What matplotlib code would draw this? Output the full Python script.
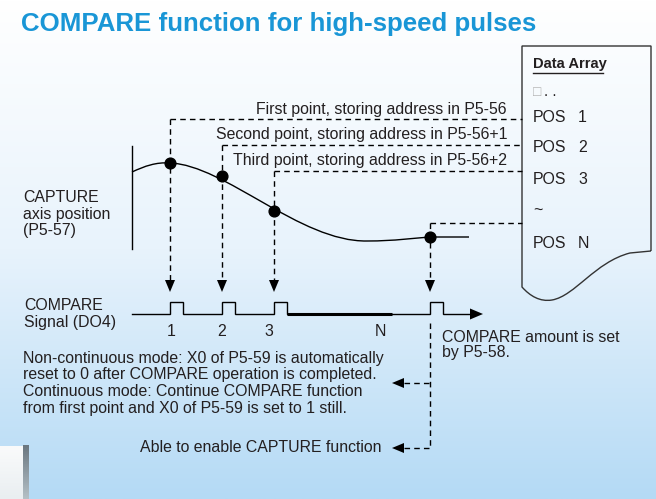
import numpy as np
import matplotlib.pyplot as plt
from matplotlib.path import Path
from matplotlib.patches import PathPatch
from matplotlib.colors import LinearSegmentedColormap

plt.rcParams['font.family'] = ['Liberation Sans', 'DejaVu Sans']

# diagram values (pixel units, y grows downward)
capture_x = [170, 222, 274, 430]
capture_y = [163, 176, 211, 237]
store_y = [119, 145, 171, 223]
store_labels = ["First point, storing address in P5-56",
                "Second point, storing address in P5-56+1",
                "Third point, storing address in P5-56+2"]
store_label_y = [109, 134, 161]

pulse_labels = ["1", "2", "3", "N"]
pulse_label_x = [171, 222, 269, 380]
pulse_width = 13

array_names = ["POS", "POS", "POS", "~", "POS"]
array_index = ["1", "2", "3", "", "N"]
array_row_y = [117, 148, 180, 211, 243]

note_lines = ["Non-continuous mode: X0 of P5-59 is automatically",
              "reset to 0 after COMPARE operation is completed.",
              "Continuous mode: Continue COMPARE function",
              "from first point and X0 of P5-59 is set to 1 still."]
note_y = [359, 375, 392, 408]

TXT = "#231f20"
DASH = (0, (4, 3))
FS = 11.4

fig = plt.figure(figsize=(6.56, 4.99), dpi=100)
ax = fig.add_axes([0, 0, 1, 1])
ax.set_xlim(0, 656)
ax.set_ylim(499, 0)
ax.axis('off')

# background gradient
cmap = LinearSegmentedColormap.from_list("bg", ["#ffffff", "#e8f3fc", "#b4daf5"])
grad = np.linspace(0, 1, 256).reshape(-1, 1)
ax.imshow(grad, extent=[0, 656, 499, 0], aspect='auto', cmap=cmap, zorder=0)

# title
ax.text(21, 24, "COMPARE function for high-speed pulses", color="#1996d6",
        fontsize=18.6, fontweight='bold', va='center', ha='left')

# data array box with wavy bottom
verts = [(651, 251), (651, 46), (522, 46), (522, 287),
         (530, 296), (540, 302), (552, 300),
         (575, 296), (595, 262), (630, 253),
         (651, 251)]
codes = [Path.MOVETO, Path.LINETO, Path.LINETO, Path.LINETO,
         Path.CURVE4, Path.CURVE4, Path.CURVE4,
         Path.CURVE4, Path.CURVE4, Path.CURVE4,
         Path.LINETO]
ax.add_patch(PathPatch(Path(verts, codes), facecolor='none', edgecolor="#333333", lw=1, zorder=2))
ax.text(533, 64, "Data Array", fontsize=10.6, fontweight='bold', color=TXT, va='center')
ax.plot([533, 603], [73, 73], color=TXT, lw=1)
ax.text(533, 92, "\u25a1", fontsize=10, color="#b0b0b0", va='center')
ax.text(544, 92, ". .", fontsize=11, color=TXT, va='center')
for name, idx, yy in zip(array_names, array_index, array_row_y):
    ax.text(533, yy, name, fontsize=FS, color=TXT, va='center')
    ax.text(578, yy, idx, fontsize=FS, color=TXT, va='center')

# capture curve
curve = [(132, 172), (145, 166), (156, 162), (170, 163),
         (225, 165), (300, 242), (367, 241),
         (395, 241), (415, 238), (430, 237),
         (469, 237)]
ccodes = [Path.MOVETO, Path.CURVE4, Path.CURVE4, Path.CURVE4,
          Path.CURVE4, Path.CURVE4, Path.CURVE4,
          Path.CURVE4, Path.CURVE4, Path.CURVE4,
          Path.LINETO]
ax.add_patch(PathPatch(Path(curve, ccodes), facecolor='none', edgecolor='black', lw=1, zorder=3))
ax.plot([132, 132], [146, 249], color='black', lw=1)
ax.scatter(capture_x, capture_y, s=60, color='black', zorder=5)

ax.text(23, 197, "CAPTURE", fontsize=FS, color=TXT, va='center')
ax.text(23, 214, "axis position", fontsize=FS, color=TXT, va='center')
ax.text(23, 231, "(P5-57)", fontsize=FS, color=TXT, va='center')

# dashed leaders into data array and down to the pulse train
for xx, sy in zip(capture_x, store_y):
    ax.plot([xx, 522], [sy, sy], color='black', lw=1, ls=DASH)
    ax.plot([xx, xx], [sy, 281], color='black', lw=1, ls=DASH)
    ax.fill([xx - 5, xx + 5, xx], [280, 280, 292], color='black', lw=0)
for lab, ly in zip(store_labels, store_label_y):
    ax.text(507, ly, lab, fontsize=FS, color=TXT, va='center', ha='right')

# compare signal
base, high = 314, 302
sx = [132]
sy = [base]
for px in capture_x:
    sx += [px, px, px + pulse_width, px + pulse_width]
    sy += [base, high, high, base]
sx.append(471)
sy.append(base)
ax.plot(sx, sy, color='black', lw=1, solid_joinstyle='miter')
ax.plot([capture_x[2] + pulse_width, 392], [base, base], color='black', lw=2.2, solid_capstyle='butt')
ax.fill([470, 470, 483], [base - 5.5, base + 5.5, base], color='black', lw=0)
for lab, lx in zip(pulse_labels, pulse_label_x):
    ax.text(lx, 332, lab, fontsize=FS, color=TXT, va='center', ha='center')
ax.text(24, 306, "COMPARE", fontsize=FS, color=TXT, va='center')
ax.text(24, 323, "Signal (DO4)", fontsize=FS, color=TXT, va='center')

ax.text(442, 337, "COMPARE amount is set", fontsize=FS, color=TXT, va='center')
ax.text(442, 353, "by P5-58.", fontsize=FS, color=TXT, va='center')

# completion arrows
xn = capture_x[3]
ax.plot([xn, xn], [323, 448], color='black', lw=1, ls=DASH)
for ay in [383, 448]:
    ax.plot([404, xn], [ay, ay], color='black', lw=1, ls=DASH)
    ax.fill([404, 404, 392], [ay - 5, ay + 5, ay], color='black', lw=0)
for line, ny in zip(note_lines, note_y):
    ax.text(23, ny, line, fontsize=FS, color=TXT, va='center')
ax.text(382, 448, "Able to enable CAPTURE function", fontsize=FS, color=TXT, va='center', ha='right')

# page-edge artifact bottom left
white = LinearSegmentedColormap.from_list("w", ["#fafbfb", "#e9eef1"])
ax.imshow(np.linspace(0, 1, 64).reshape(-1, 1), extent=[0, 23, 499, 446], aspect='auto', cmap=white, zorder=1)
bar = LinearSegmentedColormap.from_list("b", ["#6b7780", "#b4c0c6"])
ax.imshow(np.linspace(0, 1, 64).reshape(-1, 1), extent=[23, 29, 499, 445], aspect='auto', cmap=bar, zorder=1)

ax.set_xlim(0, 656)
ax.set_ylim(499, 0)
fig.savefig("out.png", dpi=100)
